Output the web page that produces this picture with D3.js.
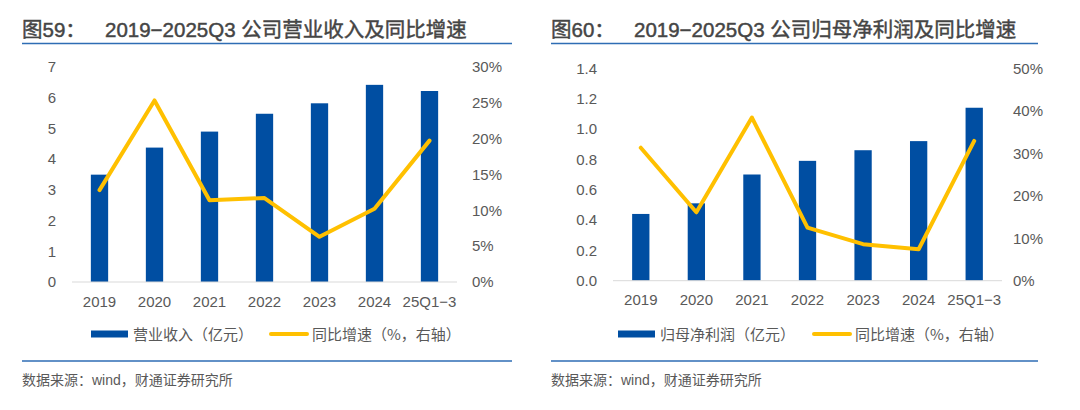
<!DOCTYPE html>
<html>
<head>
<meta charset="utf-8">
<script src="https://cdn.jsdelivr.net/npm/d3@7"></script>
<style>
  body { margin: 0; background: #fff; }
  svg { display: block; font-family: "Liberation Sans", Arial, "Noto Sans CJK SC", sans-serif; }
</style>
</head>
<body>
<script>
// data
const categories = ['2019', '2020', '2021', '2022', '2023', '2024', '25Q1−3'];
const revenue = [3.49, 4.37, 4.89, 5.47, 5.81, 6.41, 6.21];
const revenueGrowth = [12.8, 25.3, 11.4, 11.7, 6.3, 10.2, 19.7];
const netProfit = [0.44, 0.51, 0.70, 0.79, 0.86, 0.92, 1.14];
const profitGrowth = [31.3, 16.1, 38.4, 12.5, 8.6, 7.4, 32.9];
const revenueTicks = [0, 1, 2, 3, 4, 5, 6, 7];
const revenuePctTicks = [0, 5, 10, 15, 20, 25, 30];
const profitTicks = [0, 0.2, 0.4, 0.6, 0.8, 1.0, 1.2, 1.4];
const profitPctTicks = [0, 10, 20, 30, 40, 50];

const BLUE = '#004ea2';
const GOLD = '#ffc000';
const GRAY = '#595959';
const CJK = '"Noto Sans CJK SC", sans-serif';
const MIX = '"Liberation Sans", Arial, "Noto Sans CJK SC", sans-serif';

const svg = d3.select(document.body).append('svg')
  .attr('width', 1080).attr('height', 410);

drawPanel({
  left: 22, right: 512,
  figNo: '图59：', title: '2019−2025Q3 公司营业收入及同比增速',
  x0: 72, x1: 457, yTop: 66.7, yBot: 282,
  bars: revenue, line: revenueGrowth,
  lTicks: revenueTicks, rTicks: revenuePctTicks, lFmt: d3.format('d'),
  rLabelGap: 15,
  barName: '营业收入（亿元）', lineName: '同比增速（%，右轴）',
  legBarX: 91, legLineX: 269
});

drawPanel({
  left: 551, right: 1038,
  figNo: '图60：', title: '2019−2025Q3 公司归母净利润及同比增速',
  x0: 613, x1: 1002, yTop: 68.3, yBot: 280.7,
  bars: netProfit, line: profitGrowth,
  lTicks: profitTicks, rTicks: profitPctTicks, lFmt: d3.format('.1f'),
  rLabelGap: 11,
  barName: '归母净利润（亿元）', lineName: '同比增速（%，右轴）',
  legBarX: 618, legLineX: 812
});

function drawPanel(c){
  const g = svg.append('g');

  // title + rules
  const t = g.append('text')
    .attr('y', 37)
    .attr('font-family', MIX).attr('font-size', 20.5)
    .attr('fill', '#454545').attr('stroke', '#454545').attr('stroke-width', 0.45);
  t.append('tspan').attr('x', c.left).text(c.figNo);
  t.append('tspan').attr('x', c.left + 83).text(c.title);

  g.append('line')
    .attr('x1', c.left).attr('x2', c.right).attr('y1', 43.5).attr('y2', 43.5)
    .attr('stroke', '#2e6db4').attr('stroke-width', 1.5);
  g.append('line')
    .attr('x1', c.left).attr('x2', c.right).attr('y1', 361).attr('y2', 361)
    .attr('stroke', '#2e6db4').attr('stroke-width', 1.5);
  g.append('text')
    .attr('x', c.left).attr('y', 385)
    .attr('font-family', MIX).attr('font-size', 14).attr('fill', GRAY)
    .text('数据来源：wind，财通证券研究所');

  const x = d3.scaleBand().domain(categories).range([c.x0, c.x1]);
  const yL = d3.scaleLinear()
    .domain([0, d3.max(c.lTicks)]).range([c.yBot, c.yTop]);
  const yR = d3.scaleLinear()
    .domain([0, d3.max(c.rTicks)]).range([c.yBot, c.yTop]);

  const barW = 17.3;

  // bars
  g.selectAll('rect.bar')
    .data(c.bars)
    .enter()
    .append('rect')
    .attr('class', 'bar')
    .attr('x', (d, i) => x(categories[i]) + x.bandwidth() / 2 - barW / 2)
    .attr('width', barW)
    .attr('y', d => yL(d))
    .attr('height', d => yL(0) - yL(d))
    .attr('fill', BLUE);

  // baseline
  g.append('line')
    .attr('x1', c.x0).attr('x2', c.x1)
    .attr('y1', yL(0)).attr('y2', yL(0))
    .attr('stroke', '#d9d9d9').attr('stroke-width', 1);

  // left axis
  const axL = g.append('g')
    .attr('transform', `translate(${c.x0 - 16},0)`)
    .call(d3.axisLeft(yL).tickValues(c.lTicks).tickFormat(c.lFmt).tickSize(0).tickPadding(0));
  axL.select('.domain').remove();
  axL.selectAll('text')
    .attr('font-size', 15).attr('fill', GRAY)
    .attr('font-family', '"Liberation Sans", Arial, sans-serif');

  // right axis
  const axR = g.append('g')
    .attr('transform', `translate(${c.x1 + c.rLabelGap},0)`)
    .call(d3.axisRight(yR).tickValues(c.rTicks).tickFormat(d => d + '%').tickSize(0).tickPadding(0));
  axR.select('.domain').remove();
  axR.selectAll('text')
    .attr('font-size', 15).attr('fill', GRAY)
    .attr('font-family', '"Liberation Sans", Arial, sans-serif');

  // x axis labels
  const axX = g.append('g')
    .attr('transform', `translate(0,${c.yBot + 14})`)
    .call(d3.axisBottom(x).tickSize(0).tickPadding(0));
  axX.select('.domain').remove();
  axX.selectAll('text')
    .attr('font-size', 15).attr('fill', GRAY)
    .attr('font-family', '"Liberation Sans", Arial, sans-serif');

  // growth line
  const lineGen = d3.line()
    .x((d, i) => x(categories[i]) + x.bandwidth() / 2)
    .y(d => yR(d));
  g.append('path')
    .datum(c.line)
    .attr('d', lineGen)
    .attr('fill', 'none')
    .attr('stroke', GOLD)
    .attr('stroke-width', 4)
    .attr('stroke-linejoin', 'round')
    .attr('stroke-linecap', 'round');

  // legend
  const ly = 334;
  g.append('rect')
    .attr('x', c.legBarX).attr('y', ly - 3.5)
    .attr('width', 37).attr('height', 7)
    .attr('fill', BLUE);
  g.append('text')
    .attr('x', c.legBarX + 42).attr('y', ly + 5.5)
    .attr('font-family', CJK).attr('font-size', 15).attr('fill', GRAY)
    .text(c.barName);
  g.append('line')
    .attr('x1', c.legLineX + 2).attr('x2', c.legLineX + 38)
    .attr('y1', ly).attr('y2', ly)
    .attr('stroke', GOLD).attr('stroke-width', 4).attr('stroke-linecap', 'round');
  g.append('text')
    .attr('x', c.legLineX + 43).attr('y', ly + 5.5)
    .attr('font-family', CJK).attr('font-size', 15).attr('fill', GRAY)
    .text(c.lineName);
}
</script>
</body>
</html>
